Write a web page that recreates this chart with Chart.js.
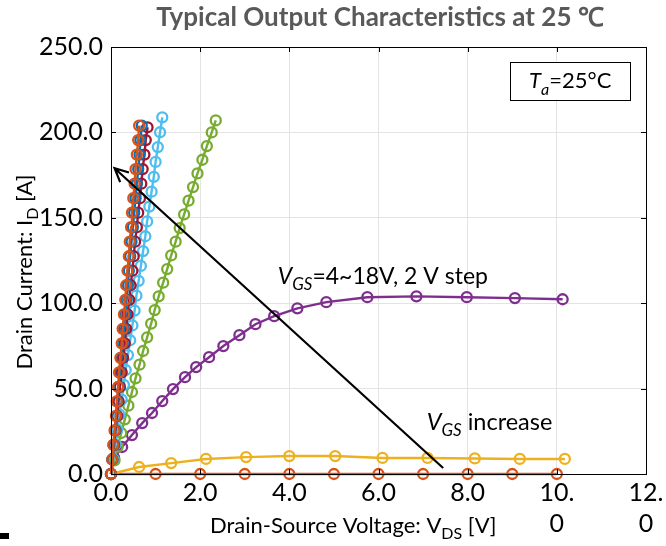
<!DOCTYPE html>
<html>
<head>
<meta charset="utf-8">
<script src="https://cdn.jsdelivr.net/npm/chart.js@4.4.1/dist/chart.umd.min.js"></script>
<style>
  html, body { margin: 0; padding: 0; background: #fff; }
  #wrap { width: 666px; height: 546px; }
</style>
</head>
<body>
<div id="wrap"><canvas id="chart" width="666" height="546"></canvas></div>
<script>
// data (Vds in V, Id in A)
var vgs18X = [0, 0.03, 0.05, 0.08, 0.11, 0.13, 0.16, 0.18, 0.21, 0.24, 0.26, 0.29, 0.32, 0.34, 0.37, 0.40, 0.42, 0.45, 0.47, 0.50, 0.53, 0.55, 0.58, 0.61, 0.63];
var vgs18Y = [0, 8.5, 17, 25.5, 34, 42.5, 51, 59.5, 68, 76.5, 85, 93.5, 102, 110.5, 119, 127.5, 136, 144.5, 153, 161.5, 170, 178.5, 187, 195.5, 204];
var vgs16X = [0, 0.03, 0.06, 0.09, 0.12, 0.14, 0.17, 0.20, 0.23, 0.26, 0.29, 0.32, 0.35, 0.38, 0.40, 0.43, 0.46, 0.49, 0.52, 0.55, 0.58, 0.61, 0.64, 0.66, 0.69];
var vgs16Y = [0, 8.5, 17, 25.5, 34, 42.5, 51, 59.5, 68, 76.5, 85, 93.5, 102, 110.5, 119, 127.5, 136, 144.5, 153, 161.5, 170, 178.5, 187, 195.5, 204];
var vgs14X = [0, 0.03, 0.07, 0.10, 0.14, 0.17, 0.20, 0.24, 0.27, 0.31, 0.34, 0.37, 0.41, 0.44, 0.48, 0.51, 0.54, 0.58, 0.61, 0.65, 0.68, 0.71, 0.75, 0.78, 0.82];
var vgs14Y = [0, 8.5, 17, 25.5, 34, 42.5, 51, 59.5, 68, 76.5, 85, 93.5, 102, 110.5, 119, 127.5, 136, 144.5, 153, 161.5, 170, 178.5, 187, 195.5, 203];
var vgs12X = [0, 0.05, 0.10, 0.14, 0.19, 0.24, 0.29, 0.33, 0.38, 0.43, 0.48, 0.53, 0.57, 0.62, 0.67, 0.72, 0.77, 0.81, 0.86, 0.91, 0.96, 1.00, 1.05, 1.10, 1.15];
var vgs12Y = [0, 8.7, 17.4, 26.1, 34.8, 43.5, 52.2, 60.9, 69.6, 78.3, 87, 95.7, 104.4, 113.1, 121.8, 130.5, 139.2, 147.9, 156.6, 165.3, 174, 182.7, 191.4, 200.1, 208.8];
var vgs10X = [0, 0.08, 0.15, 0.23, 0.31, 0.39, 0.47, 0.55, 0.64, 0.72, 0.81, 0.90, 0.98, 1.07, 1.17, 1.26, 1.35, 1.45, 1.54, 1.64, 1.74, 1.84, 1.94, 2.05, 2.15, 2.26, 2.35];
var vgs10Y = [0, 8, 16, 24, 32, 40, 48, 56, 64, 72, 80, 88, 96, 104, 112, 120, 128, 136, 144, 152, 160, 168, 176, 184, 192, 200, 207];
var vgs8X = [0, 0.07, 0.25, 0.47, 0.70, 0.92, 1.15, 1.39, 1.66, 1.91, 2.20, 2.52, 2.88, 3.24, 3.66, 4.18, 4.83, 5.75, 6.85, 7.98, 9.06, 10.13];
var vgs8Y = [0, 9.4, 15.8, 22.8, 29.8, 35.7, 42.7, 49.7, 56.7, 62.6, 68.4, 74.9, 81.3, 87.7, 92.4, 97, 100.6, 103.5, 104, 103.5, 103, 102.3];
var vgs6X = [0, 0.63, 1.35, 2.13, 3.03, 4.0, 5.03, 6.09, 7.1, 8.16, 9.17, 10.18];
var vgs6Y = [0, 4.1, 6.4, 8.8, 9.9, 10.5, 10.5, 9.4, 9.4, 9.1, 8.8, 8.8];
var vgs4X = [0, 1, 2, 3, 4, 5, 6, 7, 8, 9, 10];
var vgs4Y = [0, 0, 0, 0, 0, 0, 0, 0, 0, 0, 0];

var xTicks = [0, 2, 4, 6, 8, 10, 12];
var yTicks = [0, 50, 100, 150, 200, 250];

// arrow from low Vgs to high Vgs (data coords)
var arrowFrom = {x: 7.45, y: 3.5};
var arrowTo = {x: 0.08, y: 179};

var FONT = 'Lato, "Open Sans", sans-serif';

function pts(xs, ys) {
	return xs.map(function (v, i) { return {x: v, y: ys[i]}; });
}

function series(xs, ys, color) {
	return {
		data: pts(xs, ys),
		showLine: true,
		borderColor: color,
		borderWidth: 2.4,
		tension: 0,
		pointRadius: 5,
		pointBorderWidth: 2.3,
		pointBorderColor: color,
		pointBackgroundColor: 'rgba(0,0,0,0)',
		pointHoverRadius: 5
	};
}

// rich text: parts = [{t:'V', i:true}, {t:'GS', i:true, sub:true}, {t:'=4'}]
function partFont(p, size) {
	var s = p.sub ? Math.round(size * 0.72) : size;
	return (p.i ? 'italic ' : '') + (p.b ? 'bold ' : '') + s + 'px ' + FONT;
}
function richWidth(ctx, parts, size) {
	var w = 0;
	parts.forEach(function (p) {
		ctx.font = partFont(p, size);
		w += ctx.measureText(p.t).width;
	});
	return w;
}
function drawRich(ctx, parts, x, y, size) {
	ctx.textAlign = 'left';
	ctx.textBaseline = 'alphabetic';
	parts.forEach(function (p) {
		ctx.font = partFont(p, size);
		ctx.fillText(p.t, x, p.sub ? y + size * 0.28 : y);
		x += ctx.measureText(p.t).width;
	});
}

var decorations = {
	id: 'decorations',
	afterDatasetsDraw: function (chart) {
		var ctx = chart.ctx, a = chart.chartArea;
		var xs = chart.scales.x, ys = chart.scales.y;
		ctx.save();

		// plot box
		ctx.strokeStyle = '#000';
		ctx.lineWidth = 1;
		ctx.strokeRect(Math.round(a.left) + 0.5, Math.round(a.top) + 0.5, Math.round(a.width), Math.round(a.height));

		// inward ticks on all four sides
		ctx.beginPath();
		xTicks.forEach(function (v) {
			var px = Math.round(xs.getPixelForValue(v)) + 0.5;
			ctx.moveTo(px, a.bottom); ctx.lineTo(px, a.bottom - 5);
			ctx.moveTo(px, a.top); ctx.lineTo(px, a.top + 5);
		});
		yTicks.forEach(function (v) {
			var py = Math.round(ys.getPixelForValue(v)) + 0.5;
			ctx.moveTo(a.left, py); ctx.lineTo(a.left + 5, py);
			ctx.moveTo(a.right, py); ctx.lineTo(a.right - 5, py);
		});
		ctx.stroke();

		// arrow
		var x0 = xs.getPixelForValue(arrowFrom.x), y0 = ys.getPixelForValue(arrowFrom.y);
		var x1 = xs.getPixelForValue(arrowTo.x), y1 = ys.getPixelForValue(arrowTo.y);
		var ang = Math.atan2(y1 - y0, x1 - x0);
		ctx.lineWidth = 2.2;
		ctx.beginPath();
		ctx.moveTo(x0, y0); ctx.lineTo(x1, y1);
		ctx.moveTo(x1 - 15 * Math.cos(ang - 0.45), y1 - 15 * Math.sin(ang - 0.45));
		ctx.lineTo(x1, y1);
		ctx.lineTo(x1 - 15 * Math.cos(ang + 0.45), y1 - 15 * Math.sin(ang + 0.45));
		ctx.stroke();

		// labels inside the plot
		ctx.fillStyle = '#000';
		drawRich(ctx, [{t: 'V', i: true}, {t: 'GS', i: true, sub: true}, {t: '=4~18V, 2 V step'}],
			xs.getPixelForValue(3.74), ys.getPixelForValue(111.5), 23);
		drawRich(ctx, [{t: 'V', i: true}, {t: 'GS', i: true, sub: true}, {t: ' increase'}],
			xs.getPixelForValue(7.08), ys.getPixelForValue(26), 23.5);

		// Ta legend box
		var bx0 = xs.getPixelForValue(8.95), bx1 = xs.getPixelForValue(11.65);
		var by0 = ys.getPixelForValue(241.5), by1 = ys.getPixelForValue(219.3);
		ctx.fillStyle = '#fff';
		ctx.fillRect(bx0, by0, bx1 - bx0, by1 - by0);
		ctx.lineWidth = 1;
		ctx.strokeRect(Math.round(bx0) + 0.5, Math.round(by0) + 0.5, Math.round(bx1 - bx0), Math.round(by1 - by0));
		ctx.fillStyle = '#000';
		var tparts = [{t: 'T', i: true}, {t: 'a', i: true, sub: true}, {t: '=25°C'}];
		var tw = richWidth(ctx, tparts, 22);
		drawRich(ctx, tparts, (bx0 + bx1) / 2 - tw / 2, (by0 + by1) / 2 + 8, 22);

		// chart title
		ctx.fillStyle = '#595959';
		ctx.font = 'bold 26px ' + FONT;
		ctx.textAlign = 'center';
		ctx.textBaseline = 'alphabetic';
		ctx.fillText('Typical Output Characteristics at 25 \u2103', 380, 26);

		// axis titles
		ctx.fillStyle = '#000';
		var xparts = [{t: 'Drain-Source Voltage: V'}, {t: 'DS', sub: true}, {t: ' [V]'}];
		drawRich(ctx, xparts, 210, 533, 22);

		var yparts = [{t: 'Drain Current: I'}, {t: 'D', sub: true}, {t: ' [A]'}];
		var yw = richWidth(ctx, yparts, 22);
		ctx.save();
		ctx.translate(32, 272);
		ctx.rotate(-Math.PI / 2);
		drawRich(ctx, yparts, -yw / 2, 0, 22);
		ctx.restore();

		// stray mark at the lower left corner of the source image
		ctx.fillRect(0, 533, 9, 6);

		ctx.restore();
	}
};

var chart = new Chart(document.getElementById('chart').getContext('2d'), {
	type: 'scatter',
	data: {
		datasets: [
			series(vgs18X, vgs18Y, '#D95319'),
			series(vgs16X, vgs16Y, '#0072BD'),
			series(vgs14X, vgs14Y, '#A2142F'),
			series(vgs12X, vgs12Y, '#4DBEEE'),
			series(vgs10X, vgs10Y, '#77AC30'),
			series(vgs8X, vgs8Y, '#7E2F8E'),
			series(vgs6X, vgs6Y, '#EDB120'),
			series(vgs4X, vgs4Y, '#D95319')
		]
	},
	options: {
		responsive: false,
		animation: false,
		clip: false,
		layout: { padding: { left: 0, right: 20, top: 47, bottom: 0 } },
		plugins: {
			legend: { display: false },
			tooltip: { enabled: false },
			title: { display: false }
		},
		scales: {
			x: {
				type: 'linear',
				min: 0,
				max: 12,
				afterBuildTicks: function (s) { s.ticks = xTicks.map(function (v) { return {value: v}; }); },
				afterFit: function (s) { s.height = 72; s.paddingLeft = 0; s.paddingRight = 0; },
				border: { display: false },
				grid: { color: '#e3e3e3', lineWidth: 1, drawTicks: false },
				ticks: {
					autoSkip: false,
					maxRotation: 0,
					padding: 3,
					color: '#000',
					font: { family: FONT, size: 25, lineHeight: 1.25 },
					callback: function (v) {
						var s = v.toFixed(1);
						return v >= 10 ? [s.slice(0, 3), '0'] : s;
					}
				}
			},
			y: {
				type: 'linear',
				min: 0,
				max: 250,
				afterBuildTicks: function (s) { s.ticks = yTicks.map(function (v) { return {value: v}; }); },
				afterFit: function (s) { s.width = 111; s.paddingTop = 0; s.paddingBottom = 0; },
				border: { display: false },
				grid: { color: '#e3e3e3', lineWidth: 1, drawTicks: false },
				ticks: {
					padding: 8,
					color: '#000',
					font: { family: FONT, size: 25 },
					callback: function (v) { return v.toFixed(1); }
				}
			}
		}
	},
	plugins: [decorations]
});
</script>
</body>
</html>
